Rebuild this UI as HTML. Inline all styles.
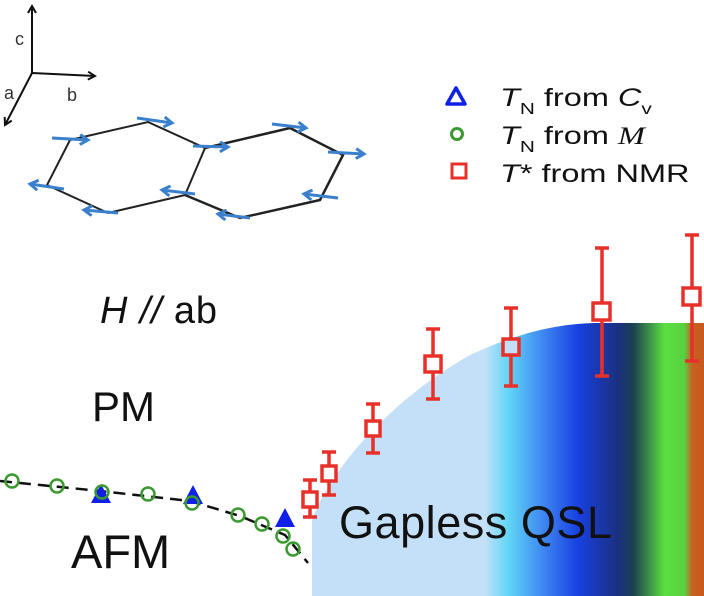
<!DOCTYPE html>
<html><head><meta charset="utf-8"><style>
html,body{margin:0;padding:0;background:#fff;}
svg{display:block;font-family:"Liberation Sans",sans-serif;}
</style></head><body>
<svg width="704" height="596" viewBox="0 0 704 596" xmlns="http://www.w3.org/2000/svg">
<defs>
<linearGradient id="g" x1="312" y1="0" x2="704" y2="0" gradientUnits="userSpaceOnUse">
<stop offset="0" stop-color="#c4e0f8"/>
<stop offset="0.44" stop-color="#c4e0f8"/>
<stop offset="0.5" stop-color="#62d6f6"/>
<stop offset="0.6" stop-color="#3a7ef0"/>
<stop offset="0.68" stop-color="#1840e0"/>
<stop offset="0.78" stop-color="#1a3080"/>
<stop offset="0.82" stop-color="#1c4050"/>
<stop offset="0.9" stop-color="#5ae040"/>
<stop offset="0.95" stop-color="#58d040"/>
<stop offset="0.97" stop-color="#c86020"/>
<stop offset="1" stop-color="#c85a20"/>
</linearGradient>
<marker id="ah" markerWidth="10" markerHeight="10" refX="8" refY="5" orient="auto" markerUnits="userSpaceOnUse">
<path d="M1,1 L8,5 L1,9" fill="none" stroke="#111" stroke-width="2"/>
</marker>
<marker id="bh" markerWidth="12" markerHeight="12" refX="9" refY="6" orient="auto" markerUnits="userSpaceOnUse">
<path d="M1,1 L9,6 L1,11" fill="none" stroke="#3a80cc" stroke-width="3"/>
</marker>
</defs>

<path d="M312,596 L312,520 C330,470 390,400 470,355 C520,332 560,323 600,323 L704,323 L704,596 Z" fill="url(#g)"/>

<g stroke="#111" stroke-width="2" fill="none">
<line x1="32" y1="73" x2="32" y2="6" marker-end="url(#ah)"/>
<line x1="32" y1="73" x2="95" y2="76" marker-end="url(#ah)"/>
<line x1="32" y1="73" x2="5" y2="125" marker-end="url(#ah)"/>
</g>
<text x="15" y="45" font-size="18" fill="#333">c</text>
<text x="4" y="99" font-size="18" fill="#333">a</text>
<text x="67" y="101" font-size="18" fill="#333">b</text>

<g stroke="#222" stroke-width="2" fill="none">
<path d="M70,140 L148,122 L205,148 L185,195 L108,213 L47,185 Z"/>
<path d="M205,148 L290,128 L343,155 L320,200 L240,218 L185,195" stroke-width="2.5"/>
</g>
<g stroke="#3a80cc" stroke-width="3" fill="none">
<line x1="52" y1="138" x2="88" y2="140" marker-end="url(#bh)"/>
<line x1="137" y1="118" x2="172" y2="123" marker-end="url(#bh)"/>
<line x1="193" y1="146" x2="228" y2="147" marker-end="url(#bh)"/>
<line x1="272" y1="124" x2="306" y2="128" marker-end="url(#bh)"/>
<line x1="328" y1="152" x2="364" y2="154" marker-end="url(#bh)"/>
<line x1="64" y1="189" x2="30" y2="184" marker-end="url(#bh)"/>
<line x1="118" y1="213" x2="84" y2="210" marker-end="url(#bh)"/>
<line x1="195" y1="194" x2="162" y2="190" marker-end="url(#bh)"/>
<line x1="250" y1="218" x2="218" y2="214" marker-end="url(#bh)"/>
<line x1="338" y1="198" x2="304" y2="194" marker-end="url(#bh)"/>
</g>

<path d="M456,88 L465,104 L447,104 Z" fill="none" stroke="#1020e8" stroke-width="3.5" stroke-linejoin="round"/>
<circle cx="457" cy="134" r="5.5" fill="none" stroke="#3a9a30" stroke-width="3"/>
<rect x="452" y="164" width="14" height="14" fill="none" stroke="#e8302a" stroke-width="3"/>
<g font-size="25" fill="#111" transform="translate(500,0) scale(1.3,1) translate(-500,0)">
<text x="500" y="106"><tspan font-style="italic">T</tspan><tspan font-size="16" dy="8">N</tspan><tspan dy="-8"> from </tspan><tspan font-style="italic">C</tspan><tspan font-size="16" dy="8">v</tspan></text>
<text x="500" y="144"><tspan font-style="italic">T</tspan><tspan font-size="16" dy="8">N</tspan><tspan dy="-8"> from </tspan><tspan font-style="italic" font-family="Liberation Serif">M</tspan></text>
<text x="500" y="182"><tspan font-style="italic">T</tspan>* from NMR</text>
</g>

<text x="100" y="323" font-size="38" fill="#111" textLength="117"><tspan font-style="italic">H</tspan> <tspan font-style="italic">//</tspan> ab</text>
<text x="92" y="421" font-size="42" fill="#111">PM</text>
<text x="71" y="568" font-size="47" fill="#111">AFM</text>
<text x="339" y="538" font-size="45" fill="#111" textLength="273">Gapless QSL</text>

<path d="M0,481 L100,491 L190,501 L240,516 L285,535 L308,563" fill="none" stroke="#111" stroke-width="2.5" stroke-dasharray="12,7"/>

<g fill="#1020e8">
<path d="M101,484 L111,503 L91,503 Z"/>
<path d="M193,485 L203,504 L183,504 Z"/>
<path d="M285,508 L295,527 L275,527 Z"/>
</g>
<g fill="none" stroke="#3a9a30" stroke-width="2.5">
<circle cx="12" cy="481" r="6.5"/>
<circle cx="57" cy="486" r="6.5"/>
<circle cx="102" cy="492" r="6.5"/>
<circle cx="148" cy="494" r="6.5"/>
<circle cx="192" cy="503" r="6.5"/>
<circle cx="238" cy="515" r="6.5"/>
<circle cx="262" cy="524" r="6.5"/>
<circle cx="283" cy="536" r="6.5"/>
<circle cx="293" cy="549" r="6.5"/>
</g>

<g stroke="#e8302a" stroke-width="3.5" fill="none">
<line x1="310" y1="480" x2="310" y2="517"/><line x1="303" y1="480" x2="317" y2="480"/><line x1="303" y1="517" x2="317" y2="517"/>
<line x1="329" y1="452" x2="329" y2="495"/><line x1="322" y1="452" x2="336" y2="452"/><line x1="322" y1="495" x2="336" y2="495"/>
<line x1="373" y1="404" x2="373" y2="453"/><line x1="366" y1="404" x2="380" y2="404"/><line x1="366" y1="453" x2="380" y2="453"/>
<line x1="433" y1="329" x2="433" y2="399"/><line x1="426" y1="329" x2="440" y2="329"/><line x1="426" y1="399" x2="440" y2="399"/>
<line x1="511" y1="308" x2="511" y2="386"/><line x1="504" y1="308" x2="518" y2="308"/><line x1="504" y1="386" x2="518" y2="386"/>
<line x1="602" y1="248" x2="602" y2="376"/><line x1="595" y1="248" x2="609" y2="248"/><line x1="595" y1="376" x2="609" y2="376"/>
<line x1="692" y1="235" x2="692" y2="361"/><line x1="685" y1="235" x2="699" y2="235"/><line x1="685" y1="361" x2="699" y2="361"/>
</g>
<g stroke="#e8302a" stroke-width="3.5">
<rect x="303" y="492" width="14" height="15" fill="#fff"/>
<rect x="322" y="466" width="14" height="15" fill="#fff"/>
<rect x="366" y="421" width="14" height="15" fill="#fff"/>
<rect x="425" y="356" width="16" height="16" fill="#fff"/>
<rect x="503" y="339" width="16" height="16" fill="#c4e0f8"/>
<rect x="593" y="303" width="17" height="17" fill="#fff"/>
<rect x="683" y="288" width="17" height="17" fill="#fff"/>
</g>
</svg>
</body></html>
